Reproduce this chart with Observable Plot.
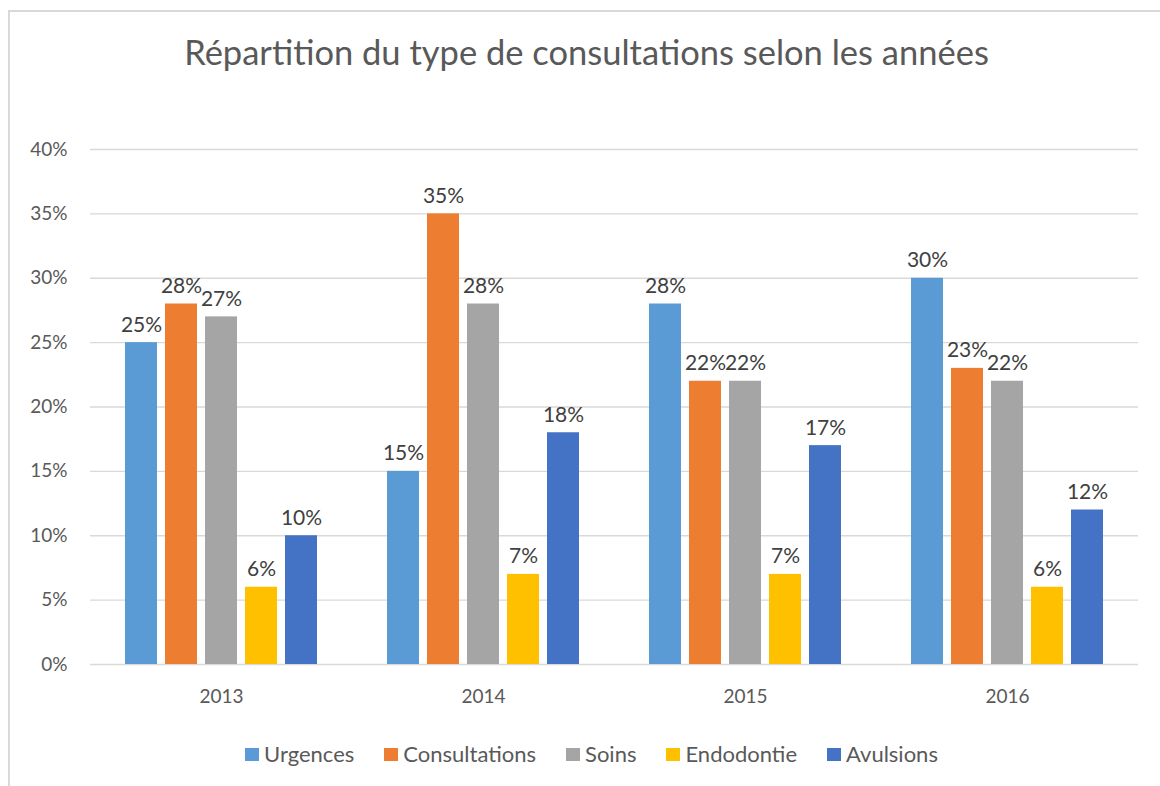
<!DOCTYPE html>
<html>
<head>
<meta charset="utf-8">
<script src="https://cdn.jsdelivr.net/npm/d3@7"></script>
<script src="https://cdn.jsdelivr.net/npm/@observablehq/plot@0.6"></script>
<style>
  html, body { margin: 0; padding: 0; background: #fff; }
  #wrap { position: relative; width: 1160px; height: 786px; overflow: hidden; font-family: Lato, "Open Sans", sans-serif; }
  #frame { position: absolute; left: 8px; top: 10px; width: 1200px; height: 800px; border: 2px solid #d9d9d9; box-sizing: border-box; }
  #title { position: absolute; left: 0; width: 1173px; top: 31px; text-align: center; font-size: 34.5px; color: #595959; white-space: nowrap; }
  #chart { position: absolute; left: 0; top: 100px; }
  #legend { position: absolute; left: 0; width: 1183px; top: 740px; display: flex; justify-content: center; gap: 30px; font-size: 22px; color: #595959; }
  .item { display: flex; align-items: center; gap: 5px; }
  .sw { width: 14px; height: 13px; display: inline-block; position: relative; top: 1px; }
</style>
</head>
<body>
<div id="wrap">
  <div id="frame"></div>
  <div id="title">Répartition du type de consultations selon les années</div>
  <div id="chart"></div>
  <div id="legend"></div>
</div>
<script>
const years = ["2013", "2014", "2015", "2016"];
const series = ["Urgences", "Consultations", "Soins", "Endodontie", "Avulsions"];
const colors = ["#5b9bd5", "#ed7d31", "#a5a5a5", "#ffc000", "#4472c4"];
const urgences = [25, 15, 28, 30];
const consultations = [28, 35, 22, 23];
const soins = [27, 28, 22, 22];
const endodontie = [6, 7, 7, 6];
const avulsions = [10, 18, 17, 12];
const yTicks = [0, 5, 10, 15, 20, 25, 30, 35, 40];

const valuesBySeries = [urgences, consultations, soins, endodontie, avulsions];
const data = [];
years.forEach((year, i) => {
  series.forEach((s, j) => {
    data.push({ year, series: s, value: valuesBySeries[j][i] });
  });
});

const chart = Plot.plot({
  width: 1160,
  height: 640,
  marginTop: 49,
  marginBottom: 76,
  marginLeft: 89,
  marginRight: 22,
  style: { fontFamily: "Lato, 'Open Sans', sans-serif", fontSize: "19px", color: "#595959", background: "transparent" },
  fx: { domain: years, padding: 0, label: null, axis: "bottom", tickSize: 0, tickPadding: 25 },
  x: { domain: series, paddingInner: 0.21, paddingOuter: 0.84, axis: null },
  y: { domain: [0, 40], axis: null },
  color: { domain: series, range: colors },
  marks: [
    Plot.gridY(yTicks, { stroke: "#d9d9d9", strokeOpacity: 1, strokeWidth: 1.3 }),
    Plot.axisY(yTicks, { anchor: "left", tickSize: 0, tickPadding: 23, tickFormat: d => d + "%", fontSize: 19, fill: "#595959", label: null }),
    Plot.barY(data, { fx: "year", x: "series", y: "value", fill: "series" }),
    Plot.text(data, { fx: "year", x: "series", y: "value", text: d => d.value + "%", lineAnchor: "bottom", dy: -11, fontSize: 21, fill: "#404040" })
  ]
});
document.getElementById("chart").appendChild(chart);

const legend = document.getElementById("legend");
series.forEach((s, j) => {
  const item = document.createElement("div");
  item.className = "item";
  const sw = document.createElement("span");
  sw.className = "sw";
  sw.style.background = colors[j];
  const label = document.createElement("span");
  label.textContent = s;
  item.appendChild(sw);
  item.appendChild(label);
  legend.appendChild(item);
});
</script>
</body>
</html>
